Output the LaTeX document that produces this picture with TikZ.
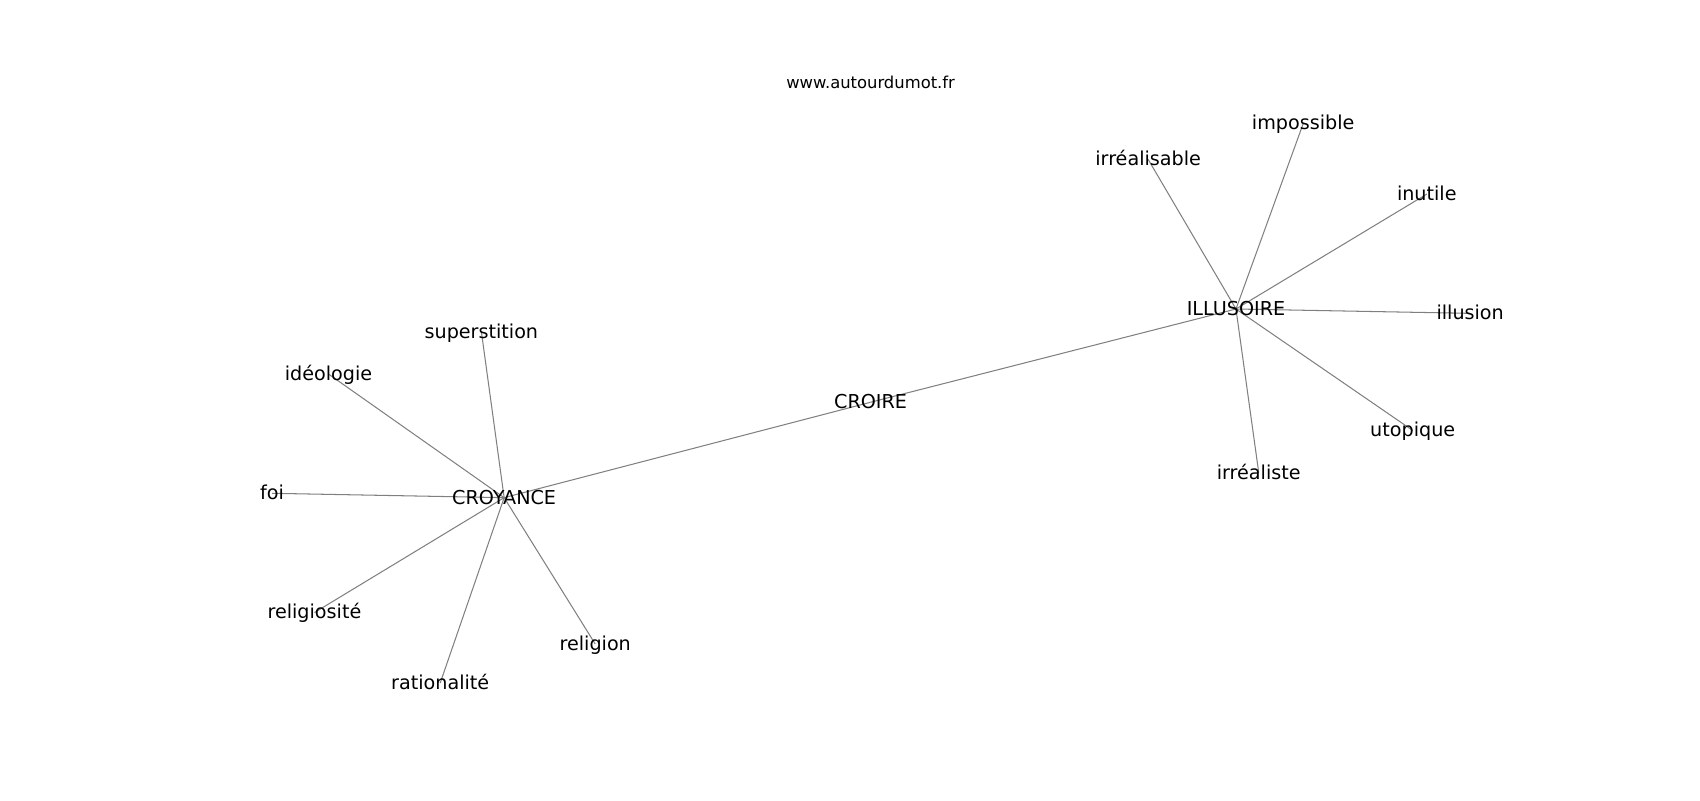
\documentclass[tikz,border=0pt]{standalone}
\usepackage{fontspec}
\setmainfont{DejaVu Sans}
\usetikzlibrary{backgrounds}

\begin{document}
\begin{tikzpicture}[x=0.7806pt, y=-0.7806pt,
    word/.style={inner sep=0pt, text height=0.92em, text depth=0pt,
        font=\fontsize{13.8}{16}\selectfont},
    link/.style={draw=gray, line width=0.75pt}]
    \useasboundingbox (0,0) rectangle (1568,738);

    % site name
    \node[inner sep=0pt, font=\fontsize{11.8}{14}\selectfont] (site) at (803,76) {www.autourdumot.fr};

    % main words
    \node[word] (croire) at (803,371) {CROIRE};
    \node[word] (croyance) at (465,459) {CROYANCE};
    \node[word] (illusoire) at (1140,285) {ILLUSOIRE};

    % words round CROYANCE
    \foreach \name/\x/\y/\txt in {superstition/444/306/superstition,
            ideologie/303/345/idéologie, foi/251/455/foi,
            religiosite/290/565/religiosité, rationalite/406/630/rationalité,
            religion/549/594/religion}
        \node[word] (\name) at (\x,\y) {\txt};

    % words round ILLUSOIRE
    \foreach \name/\x/\y/\txt in {irrealisable/1059/147/irréalisable,
            impossible/1202/114/impossible, inutile/1316/179/inutile,
            illusion/1356/289/illusion, utopique/1303/397/utopique,
            irrealiste/1161/436/irréaliste}
        \node[word] (\name) at (\x,\y) {\txt};

    % links, behind the words
    \begin{scope}[on background layer]
        \draw[link] (croyance.center) -- (croire.center);
        \draw[link] (croire.center) -- (illusoire.center);
        \foreach \b in {superstition,ideologie,foi,religiosite,rationalite,religion}
            \draw[link] (croyance.center) -- (\b.center);
        \foreach \b in {irrealisable,impossible,inutile,illusion,utopique,irrealiste}
            \draw[link] (illusoire.center) -- (\b.center);
    \end{scope}
\end{tikzpicture}
\end{document}
